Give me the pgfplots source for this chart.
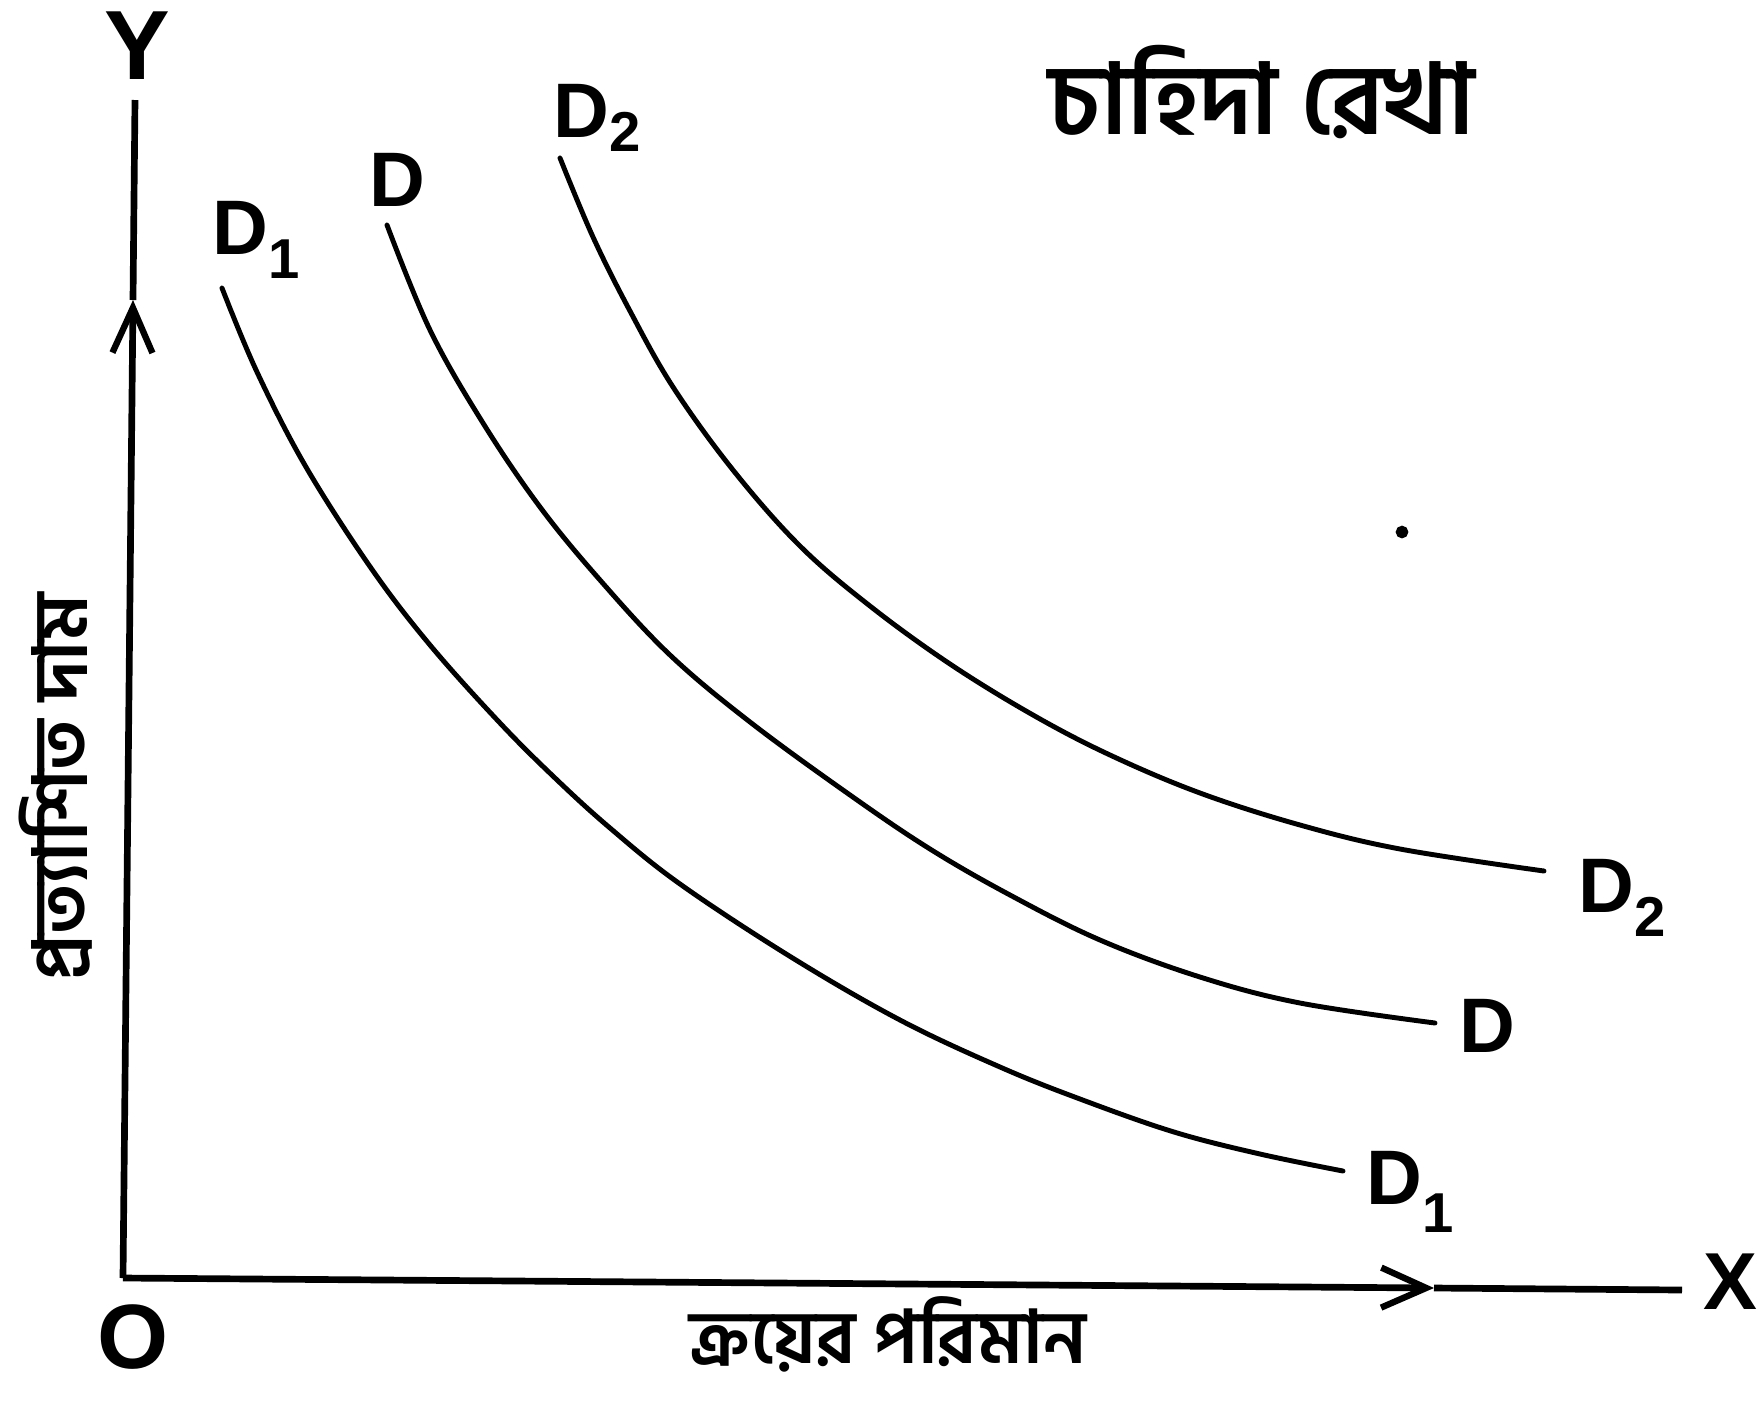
\documentclass[border=0pt]{standalone}
\usepackage{pgfplots}
\pgfplotsset{compat=1.18}
\usepackage{fontspec}
\setmainfont{Liberation Sans}
\newfontfamily\bn[Script=Bengali]{Hind Siliguri}
\usetikzlibrary{arrows.meta}
\begin{document}
\begin{tikzpicture}
\useasboundingbox (0,0) rectangle (176.3mm,140.2mm);
\begin{axis}[
    at={(0,0)}, anchor=south west,
    scale only axis, width=176.3mm, height=140.2mm,
    xmin=0, xmax=1763, ymin=0, ymax=1402, y dir=reverse,
    hide axis, clip=false,
]
% axes (pixel coordinates of the reference)
\addplot[black, line width=1.9pt, -{Straight Barb[length=4.5mm,width=4mm,line width=1.8pt]}] coordinates {(123,1278) (133,300)};
\addplot[black, line width=1.9pt] coordinates {(133,300) (135,100)};
\addplot[black, line width=1.9pt, -{Straight Barb[length=4.5mm,width=4mm,line width=1.8pt]}] coordinates {(123,1278) (1434,1288)};
\addplot[black, line width=1.9pt] coordinates {(1434,1288) (1682,1290)};

% demand curves
\addplot[black, line width=1.4pt, smooth, tension=0.6, line cap=round] coordinates {
 (222,288) (257,372) (306,467) (371,568) (430,645) (500,723) (555,778)
 (610,828) (680,884) (791,957) (900,1020) (1000,1067) (1080,1099)
 (1174,1132) (1260,1154) (1343,1171)};
\addplot[black, line width=1.4pt, smooth, tension=0.6, line cap=round] coordinates {
 (387,225) (430,330) (483,423) (540,507) (600,580) (670,655) (750,722)
 (850,795) (930,849) (1010,895) (1100,940) (1200,977) (1300,1003)
 (1435,1023)};
\addplot[black, line width=1.4pt, smooth, tension=0.6, line cap=round] coordinates {
 (560,158) (593,237) (630,311) (673,387) (733,470) (800,546) (870,606)
 (950,664) (1033,715) (1110,755) (1200,793) (1300,825) (1400,849)
 (1544,871)};
\addplot[black, only marks, mark=*, mark size=1.6pt] coordinates {(1402,532)};

% labels
\node[font=\bfseries\fontsize{28}{30}\selectfont] at (axis cs:137,46) {Y};
\node[font=\bfseries\fontsize{26}{28}\selectfont] at (axis cs:133,1337) {O};
\node[font=\bfseries\fontsize{23}{25}\selectfont] at (axis cs:1730,1282) {X};
\node[font=\bfseries\fontsize{22}{24}\selectfont, anchor=west] at (axis cs:541,118) {D\raisebox{-0.35ex}{\fontsize{16}{16}\selectfont 2}};
\node[font=\bfseries\fontsize{22}{24}\selectfont, anchor=west] at (axis cs:357,180) {D};
\node[font=\bfseries\fontsize{22}{24}\selectfont, anchor=west] at (axis cs:200,240) {D\raisebox{-0.6ex}{\fontsize{16}{16}\selectfont 1}};
\node[font=\bfseries\fontsize{22}{24}\selectfont, anchor=west] at (axis cs:1566,898) {D\raisebox{-0.6ex}{\fontsize{16}{16}\selectfont 2}};
\node[font=\bfseries\fontsize{22}{24}\selectfont, anchor=west] at (axis cs:1447,1026) {D};
\node[font=\bfseries\fontsize{22}{24}\selectfont, anchor=west] at (axis cs:1354,1192) {D\raisebox{-0.7ex}{\fontsize{16}{16}\selectfont 1}};
\node[font=\bn\bfseries\fontsize{28}{30}\selectfont] at (axis cs:1262,92) {চাহিদা রেখা};
\node[font=\bn\bfseries\fontsize{21}{23}\selectfont] at (axis cs:888,1334) {ক্রয়ের পরিমান};
\node[font=\bn\bfseries\fontsize{21.5}{23}\selectfont, rotate=90] at (axis cs:56,787) {প্রত্যাশিত দাম};
\end{axis}
\end{tikzpicture}
\end{document}
